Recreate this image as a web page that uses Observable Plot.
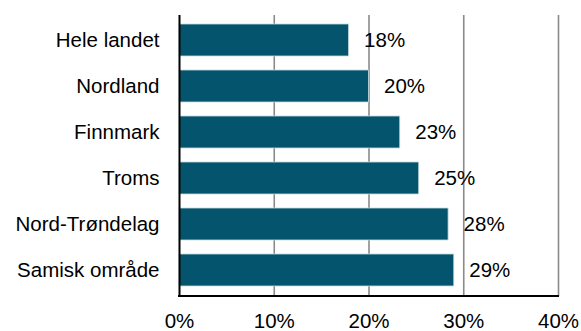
<!DOCTYPE html>
<html>
<head>
<meta charset="utf-8">
<script src="https://cdn.jsdelivr.net/npm/d3@7"></script>
<script src="https://cdn.jsdelivr.net/npm/@observablehq/plot@0.6"></script>
<style>
  html, body { margin: 0; padding: 0; background: #fff; }
  #chart svg { display: block; }
</style>
</head>
<body>
<div id="chart"></div>
<script>
const categories = ["Hele landet", "Nordland", "Finnmark", "Troms", "Nord-Trøndelag", "Samisk område"];
const values = [0.179, 0.200, 0.233, 0.253, 0.284, 0.290];
const valueLabels = ["18%", "20%", "23%", "25%", "28%", "29%"];
const xTicks = [0, 0.1, 0.2, 0.3, 0.4];
const gridTicks = [0.1, 0.2, 0.3, 0.4];

const data = categories.map((c, i) => ({category: c, value: values[i], label: valueLabels[i]}));

const bottomLine = (index, scales, values, dimensions) => {
  const {height, marginBottom} = dimensions;
  const x0 = scales.x(0), x1 = scales.x(0.4);
  const y = height - marginBottom;
  const line = document.createElementNS("http://www.w3.org/2000/svg", "line");
  line.setAttribute("x1", x0 - 1);
  line.setAttribute("x2", x1 + 1);
  line.setAttribute("y1", y);
  line.setAttribute("y2", y);
  line.setAttribute("stroke", "#000");
  line.setAttribute("stroke-width", 2);
  return line;
};

const chart = Plot.plot({
  width: 581,
  height: 331,
  marginLeft: 179,
  marginRight: 23,
  marginTop: 15,
  marginBottom: 35,
  style: {fontFamily: "'Liberation Sans', Arial, sans-serif", fontSize: "20.5px", color: "#000", background: "#fff"},
  x: {domain: [0, 0.4]},
  y: {domain: categories, paddingInner: 0.3, paddingOuter: 0.18},
  marks: [
    Plot.gridX(gridTicks, {stroke: "#8a8a8a", strokeOpacity: 1, strokeWidth: 1.6}),
    Plot.barX(data, {x: "value", y: "category", fill: "#03546C", stroke: "#c9dbe2", strokeWidth: 0.8}),
    Plot.text(data, {x: "value", y: "category", text: "label", textAnchor: "start", dx: 15, fontSize: 20.5, fill: "#000"}),
    Plot.ruleX([0], {stroke: "#000", strokeWidth: 2}),
    bottomLine,
    Plot.axisX(xTicks, {tickSize: 0, tickPadding: 17, tickFormat: d => Math.round(d * 100) + "%", fontSize: 20.5, label: null}),
    Plot.axisY({tickSize: 0, tickPadding: 20, fontSize: 20.5, label: null})
  ]
});
document.getElementById("chart").appendChild(chart);
</script>
</body>
</html>
